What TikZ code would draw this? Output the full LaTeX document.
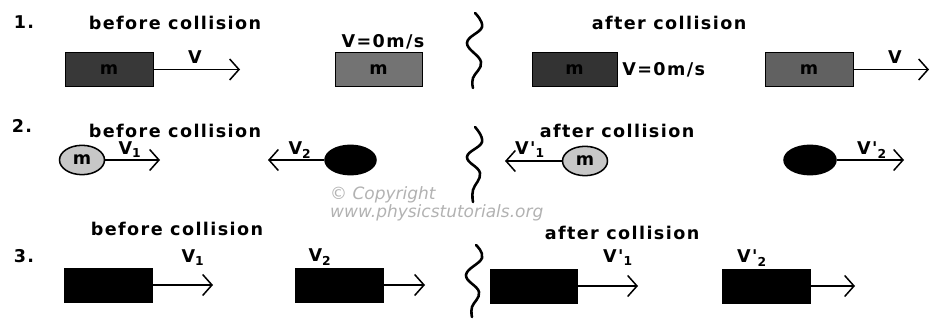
\documentclass[tikz,border=0pt]{standalone}
\usepackage{fontspec}
\setmainfont{DejaVu Sans}
\newfontfamily\cartoon{DejaVu Sans}[LetterSpace=8]
\usetikzlibrary{positioning, arrows.meta, calc, shapes.geometric}

\begin{document}
\begin{tikzpicture}[
    x = 0.03cm, y = -0.03cm,
    block/.style = {
      rectangle, draw, line width = 0.6pt,
      minimum width = 2.64cm, minimum height = 1.02cm,
      inner sep = 0pt, font = \cartoon\bfseries\fontsize{15}{17}\selectfont
    },
    ball/.style = {
      ellipse, draw, line width = 1.3pt,
      minimum width = 1.35cm, minimum height = 0.88cm,
      inner sep = 0pt, font = \cartoon\bfseries\fontsize{15}{17}\selectfont
    },
    lbl/.style     = {font = \cartoon\bfseries\fontsize{15}{17}\selectfont, inner sep = 0pt},
    title/.style   = {font = \cartoon\bfseries\fontsize{15}{17}\selectfont, inner sep = 0pt},
    casenum/.style = {font = \cartoon\bfseries\fontsize{15}{17}\selectfont, inner sep = 0pt},
    vel/.style     = {-{Straight Barb[length=8pt, width=18pt, line width=1.3pt]}, line width = 1.1pt},
    wiggle/.style  = {line width = 2.2pt, line cap = round},
    wmark/.style   = {font = \itshape\fontsize{14.5}{16}\selectfont, text = black!30,
                      inner sep = 0pt, anchor = west}
  ]
  \useasboundingbox (0,0) rectangle (933,320);

  % Fall 1: bewegter Block trifft ruhenden Block
  \node[casenum] (n1)  at (24,22)  {1.};
  \node[title]   (bc1) at (175,23) {before collision};
  \node[title]   (ac1) at (669,23) {after collision};
  \node[block, fill = black!78] (a1) at (109,69.5) {m};
  \node[block, fill = black!55, minimum width = 2.61cm] (a2) at (378.5,69.5) {m};
  \node[block, fill = black!80, minimum width = 2.55cm] (a3) at (574.5,69.5) {m};
  \node[block, fill = black!62] (a4) at (809,69.5) {m};
  \coordinate (a1v) at (240,69.5);
  \coordinate (a4v) at (929,69.5);
  \draw[vel] (a1) -- (a1v);
  \draw[vel] (a4) -- (a4v);
  \node[lbl] (va1) at (195,57)  {V};
  \node[lbl] (va4) at (895,57)  {V};
  \node[lbl] (za2) at (383,42)  {V=0m/s};
  \node[lbl, right = 4pt of a3] (za3) {V=0m/s};

  % Fall 2: Kugeln laufen aufeinander zu
  \node[casenum] (n2)  at (22,126) {2.};
  \node[title]   (bc2) at (175,131) {before collision};
  \node[title]   (ac2) at (617,131) {after collision};
  \node[ball, fill = black!22] (b1) at (82,160) {m};
  \node[ball, fill = black, minimum width = 1.53cm] (b2) at (350.5,160) {};
  \node[ball, fill = black!22] (b3) at (585,161) {m};
  \node[ball, fill = black, minimum width = 1.56cm] (b4) at (810,160) {};
  \coordinate (b1v) at (160,160);
  \coordinate (b2v) at (268,160);
  \coordinate (b3v) at (505,161);
  \coordinate (b4v) at (904,160);
  \draw[vel] (b1) -- (b1v);
  \draw[vel] (b2) -- (b2v);
  \draw[vel] (b3) -- (b3v);
  \draw[vel] (b4) -- (b4v);
  \node[lbl] (vb1) at (130,150) {V\textsubscript{1}};
  \node[lbl] (vb2) at (300,150) {V\textsubscript{2}};
  \node[lbl] (vb3) at (530,150) {V'\textsubscript{1}};
  \node[lbl] (vb4) at (872,150) {V'\textsubscript{2}};
  \node[wmark] (cp)  at (330,195) {© Copyright};
  \node[wmark] (url) at (330,213) {www.physicstutorials.org};

  % Fall 3: zwei Bloecke in gleicher Richtung
  \node[casenum] (n3)  at (24,256) {3.};
  \node[title]   (bc3) at (177,229) {before collision};
  \node[title]   (ac3) at (622,233) {after collision};
  \node[block, fill = black] (c1) at (108.5,285) {};
  \node[block, fill = black] (c2) at (339,285) {};
  \node[block, fill = black, minimum width = 2.61cm] (c3) at (533.5,286) {};
  \node[block, fill = black] (c4) at (766,286) {};
  \coordinate (c1v) at (213,285);
  \coordinate (c2v) at (425,285);
  \coordinate (c3v) at (638,286);
  \coordinate (c4v) at (855,286);
  \draw[vel] (c1) -- (c1v);
  \draw[vel] (c2) -- (c2v);
  \draw[vel] (c3) -- (c3v);
  \draw[vel] (c4) -- (c4v);
  \node[lbl] (vc1) at (193,258) {V\textsubscript{1}};
  \node[lbl] (vc2) at (320,257) {V\textsubscript{2}};
  \node[lbl] (vc3) at (618,258) {V'\textsubscript{1}};
  \node[lbl] (vc4) at (752,258) {V'\textsubscript{2}};

  % Trennklammern
  \draw[wiggle] plot[smooth, tension = 0.7] coordinates
    {(475,13) (482,27) (467,43) (481,62) (473,78) (473,88)};
  \draw[wiggle] plot[smooth, tension = 0.7] coordinates
    {(475,127) (482,142) (467,157) (480,173) (473,190) (473,202)};
  \draw[wiggle] plot[smooth, tension = 0.7] coordinates
    {(476,245) (482,258) (466,275) (479,292) (472,307) (472,317)};
\end{tikzpicture}
\end{document}
